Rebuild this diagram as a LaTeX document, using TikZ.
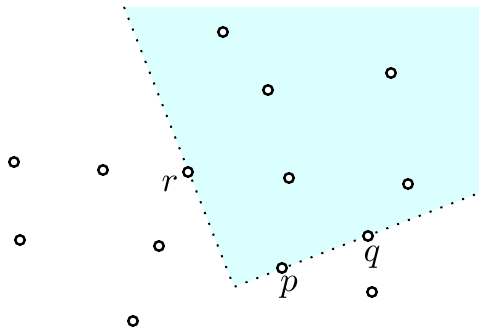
\documentclass[tikz,border=0pt]{standalone}
\usetikzlibrary{positioning}
\definecolor{regionF}{HTML}{DBFFFF}
\tikzset{
  site/.style={circle, draw, line width=0.7pt, minimum size=0.95mm, inner sep=0pt, fill=white},
  hull/.style={dash pattern=on 0.6pt off 2.7pt, line width=0.55pt},
  lbl/.style={font=\normalsize, inner sep=1pt},
}
\begin{document}
\begin{tikzpicture}[x=0.1mm, y=-0.1mm]
  \useasboundingbox (0,0) rectangle (482,330);

  % ---- shaded region and its dotted boundary -------------------------------
  \coordinate (top)    at (124,7);
  \coordinate (corner) at (234,287);
  \coordinate (right)  at (479,193);
  \fill[regionF] (top) -- (corner) -- (right) -- (479,7) -- cycle;
  \draw[hull] (top) -- (corner) -- (right);

  % ---- the sites -----------------------------------------------------------
  \node[site] (s1)  at (223,32)  {};
  \node[site] (s2)  at (268,90)  {};
  \node[site] (s3)  at (391,73)  {};
  \node[site] (s4)  at (14,162)  {};
  \node[site] (s5)  at (103,170) {};
  \node[site] (r)   at (188,172) {};
  \node[site] (s6)  at (289,178) {};
  \node[site] (s7)  at (408,184) {};
  \node[site] (s8)  at (20,240)  {};
  \node[site] (s9)  at (159,246) {};
  \node[site] (q)   at (368,236) {};
  \node[site] (p)   at (282,268) {};
  \node[site] (s10) at (372,292) {};
  \node[site] (s11) at (133,321) {};

  % ---- labels --------------------------------------------------------------
  \node[lbl] (rl) at (170,184) {$r$};
  \node[lbl] (pl) at (289,287) {$p$};
  \node[lbl] (ql) at (372,257) {$q$};

\end{tikzpicture}
\end{document}
